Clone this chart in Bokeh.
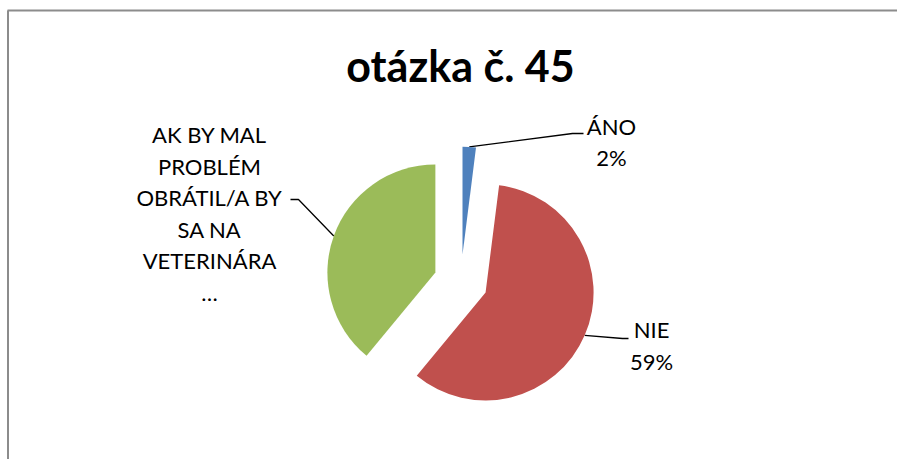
import math
from bokeh.plotting import figure
from bokeh.models import Range1d, ColumnDataSource
from bokeh.core.properties import value
from bokeh.embed import file_html
from bokeh.resources import INLINE

# ---- data ----
title_text = "otázka č. 45"
categories = ["ÁNO", "NIE", "AK BY MAL PROBLÉM OBRÁTIL/A BY SA NA VETERINÁRA …"]
values = [2, 59, 39]
colors = ["#4F81BD", "#C0504D", "#9BBB59"]
# wrapped label text (category name part) as displayed
label_names = [["ÁNO"], ["NIE"], ["AK BY MAL", "PROBLÉM", "OBRÁTIL/A BY", "SA NA", "VETERINÁRA", "…"]]
show_pct = [True, True, False]

# ---- layout (screen px; the figure sits at the page origin) ----
W, H = 897, 459


def dx(sx):
    return sx


def dy(sy):
    return H - sy


CX, CY = 460.3, 281.2
R = 108
EXPLODE = 27
FONT = "Lato"
LABEL_SIZE = "22px"

# label anchors: (center x, first baseline y, line spacing)
label_pos = [(611, 126, 31), (651, 329, 32), (209, 134, 31.6)]
# leader line elbows (screen px)
elbows = [[(572, 133), (583, 133)], [(622, 338), (628, 338)], [(298, 199), (290, 199)]]

p = figure(width=W, height=H, output_backend="svg", toolbar_location=None,
           x_range=Range1d(0, W), y_range=Range1d(0, H), title=None,
           min_border=0, x_axis_location=None, y_axis_location=None)
p.grid.visible = False
p.outline_line_color = None
p.background_fill_color = "white"
p.border_fill_color = "white"

# chart area border (top and left edges visible)
p.line(x=[dx(7.5), dx(7.5)], y=[dy(459), dy(10)], line_color="#8c8c8c", line_width=2)
p.line(x=[dx(7), dx(897)], y=[dy(10), dy(10)], line_color="#8c8c8c", line_width=2)

# title
p.text(x=[dx(460)], y=[dy(65)], text=[title_text], text_font=value(FONT),
       text_font_style="bold", text_font_size="43px", text_align="center",
       text_baseline="alphabetic", text_color="black")

total = float(sum(values))
cum = 0.0
xs, ys, sa, ea = [], [], [], []
for i, v in enumerate(values):
    t0 = cum / total * 360.0
    t1 = (cum + v) / total * 360.0
    cum += v
    mid = math.radians((t0 + t1) / 2)
    # screen center of exploded slice
    scx = CX + EXPLODE * math.sin(mid)
    scy = CY - EXPLODE * math.cos(mid)
    xs.append(dx(scx))
    ys.append(dy(scy))
    sa.append(math.radians(90 - t0))
    ea.append(math.radians(90 - t1))
    # leader line from arc midpoint
    ax = scx + R * math.sin(mid)
    ay = scy - R * math.cos(mid)
    pts = [(ax, ay)] + elbows[i]
    p.line(x=[dx(a) for a, b in pts], y=[dy(b) for a, b in pts],
           line_color="black", line_width=1.3)
    # label text
    lines = list(label_names[i])
    if show_pct[i]:
        lines.append(f"{round(v / total * 100)}%")
    lx, ly, sp = label_pos[i]
    p.text(x=[dx(lx)] * len(lines), y=[dy(ly + k * sp) for k in range(len(lines))],
           text=lines, text_font=value(FONT), text_font_size=LABEL_SIZE,
           text_align="center", text_baseline="alphabetic", text_color="black")

src = ColumnDataSource(dict(x=xs, y=ys, start=sa, end=ea, color=colors, cat=categories))
p.wedge(x="x", y="y", radius=R, start_angle="start", end_angle="end",
        direction="clock", fill_color="color", line_color=None, source=src)

open("out.html", "w").write(file_html(p, INLINE))
